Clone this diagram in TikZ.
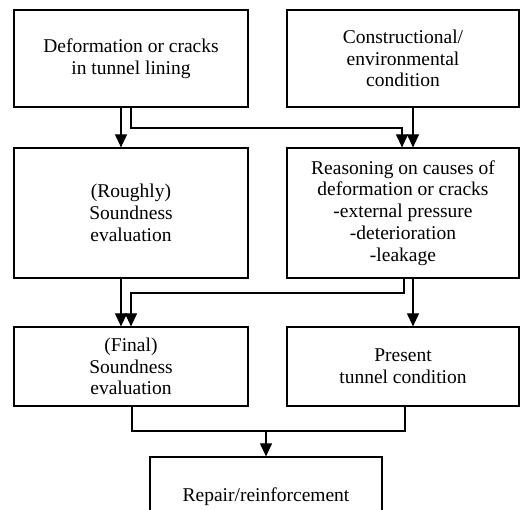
\documentclass[tikz,border=0pt]{standalone}
\usepackage{fontspec}
\setmainfont{Liberation Serif}
\usepackage{tikz}
\usetikzlibrary{arrows.meta,positioning}
\tikzstyle{block} = [rectangle, draw, line width=1.2pt, align=center, inner sep=0pt,
    font=\fontsize{19.5}{21.8}\selectfont]
\tikzstyle{line} = [draw, line width=1.1pt, -{Triangle[width=12pt,length=13pt]}]

\begin{document}
\begin{tikzpicture}[x=1pt,y=1pt]

\clip (0,0) rectangle (520,510);
\useasboundingbox (0,0) rectangle (520,510);

% Top row
\node[block,minimum width=234pt,minimum height=97pt] (defo) at (131,451.5) {Deformation or cracks\\in tunnel lining};
\node[block,minimum width=232pt,minimum height=97pt] (cond) at (403,451.5) {Constructional/\\environmental\\condition};

% Middle row
\node[block,minimum width=234pt,minimum height=130pt] (rough) at (131,297) {(Roughly)\\Soundness\\evaluation};
\node[block,minimum width=232pt,minimum height=130pt] (reason) at (403,297) {Reasoning on causes of\\deformation or cracks\\-external pressure\\-deterioration\\-leakage};

% Lower row
\node[block,minimum width=234pt,minimum height=79pt] (final) at (131,143.5) {(Final)\\Soundness\\evaluation};
\node[block,minimum width=232pt,minimum height=79pt] (present) at (403,143.5) {Present\\tunnel condition};

% Output
\node[block,minimum width=232pt,minimum height=80pt] (repair) at (266,13) {Repair/reinforcement};

% Junctions
\coordinate (join) at (266,79);

% Arrows
\draw[line] (defo.south -| 121,0) -- (rough.north -| 121,0);
\draw[line] (defo.south -| 131,0) |- (402,382) -- (reason.north -| 402,0);
\draw[line] (cond.south -| 413,0) -- (reason.north -| 413,0);
\draw[line] (rough.south -| 121,0) -- (final.north -| 121,0);
\draw[line] (reason.south -| 404,0) |- (131,217) -- (final.north -| 131,0);
\draw[line] (reason.south -| 413,0) -- (present.north -| 413,0);
\draw[line width=1.1pt] (final.south -| 132,0) |- (join) -| (present.south -| 405,0);
\draw[line] (join) -- (repair.north);

\end{tikzpicture}
\end{document}
